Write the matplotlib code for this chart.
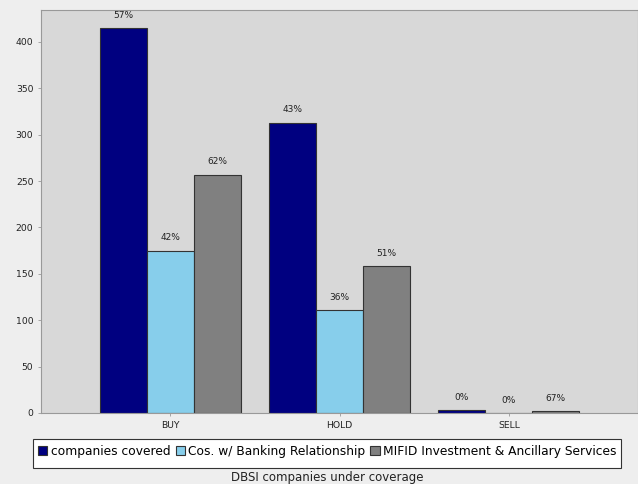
import numpy as np
import matplotlib
matplotlib.use('Agg')
import matplotlib.pyplot as plt
from matplotlib.patches import Rectangle

# Données
categories = ['BUY', 'HOLD', 'SELL']
series_names = ['companies covered', 'Cos. w/ Banking Relationship',
                'MIFID Investment & Ancillary Services']
covered = [415, 313, 3]
banking = [175, 111, 0]
mifid = [257, 158, 2]
pct_covered = ['57%', '43%', '0%']
pct_banking = ['42%', '36%', '0%']
pct_mifid = ['62%', '51%', '67%']

colors = ['#000080', '#87ceeb', '#808080']

plt.rcParams['font.family'] = 'DejaVu Sans'

fig = plt.figure(figsize=(6.38, 4.84), dpi=100, facecolor='#eeeeee')
ax = fig.add_axes([41 / 638, 1 - 413 / 484, 597 / 638, 403 / 484])
ax.set_facecolor('#d8d8d8')

x = np.arange(len(categories))
w = 0.277
all_vals = [covered, banking, mifid]
all_pct = [pct_covered, pct_banking, pct_mifid]
for i in range(3):
    pos = x + (i - 1) * w
    bars = ax.bar(pos, all_vals[i], width=w, color=colors[i], edgecolor='#333333',
                  linewidth=0.8, label=series_names[i])
    for b, txt in zip(bars, all_pct[i]):
        ax.text(b.get_x() + b.get_width() / 2, b.get_height() + 9, txt,
                ha='center', va='bottom', fontsize=6.5, color='#222222')

ax.set_xlim(-0.763, 2.763)
ax.set_ylim(0, 434.5)
ax.set_yticks(np.arange(0, 401, 50))
ax.set_xticks(x)
ax.set_xticklabels(categories)
ax.tick_params(axis='both', labelsize=6.7, colors='#999999', labelcolor='#222222',
               length=2, width=0.6)
for s in ax.spines.values():
    s.set_color('#999999')
    s.set_linewidth(0.8)

# cadre de la légende
fig.patches.append(Rectangle((33 / 638, 1 - 468 / 484), 588 / 638, 29 / 484,
                             transform=fig.transFigure, facecolor='white',
                             edgecolor='#333333', linewidth=0.8, zorder=0))
leg = fig.legend(loc='center', bbox_to_anchor=(327.5 / 638, 1 - 451 / 484), ncol=3,
                 fontsize=8.8, frameon=False,
                 handlelength=0.75, handleheight=0.75, handletextpad=0.3,
                 columnspacing=0.4, borderpad=0.3, borderaxespad=0)

fig.text(327 / 638, 1 - 478 / 484, 'DBSI companies under coverage', ha='center',
         va='center', fontsize=8.5, color='#222222')

fig.savefig('out.png', dpi=100, facecolor=fig.get_facecolor())
